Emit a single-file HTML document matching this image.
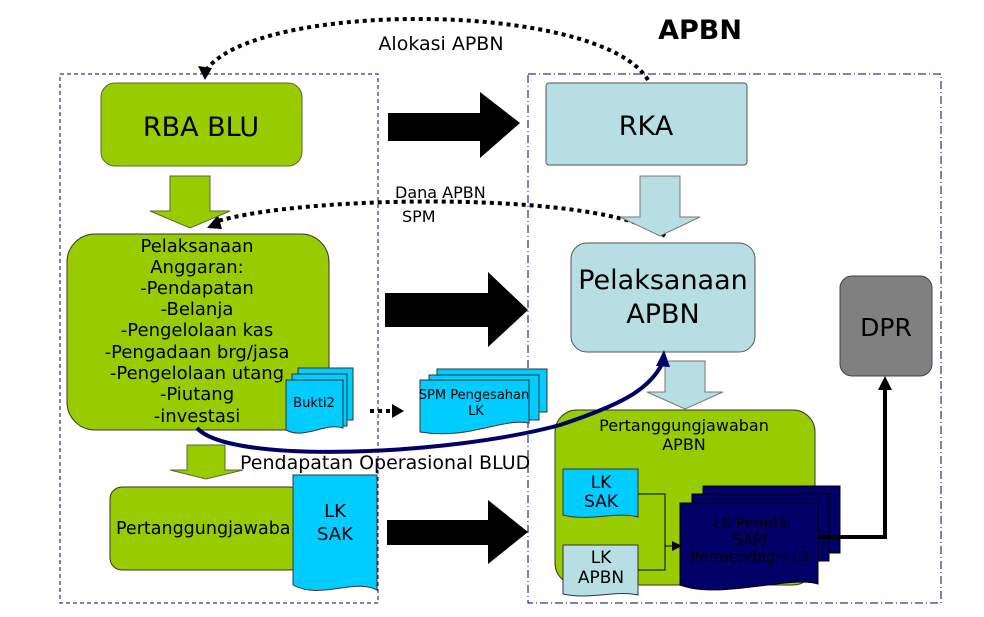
<!DOCTYPE html>
<html><head><meta charset="utf-8"><style>
html,body{margin:0;padding:0;background:#fff;}
svg{display:block;font-family:"DejaVu Sans","Liberation Sans",sans-serif;}
</style></head><body>
<svg width="984" height="617" viewBox="0 0 984 617" xmlns="http://www.w3.org/2000/svg">
<!-- containers -->
<rect x="60" y="74" width="318" height="529" fill="none" stroke="#000080" stroke-width="1" stroke-dasharray="4,3"/>
<rect x="528" y="74" width="413" height="529" fill="none" stroke="#000080" stroke-width="1" stroke-dasharray="8,3,1,3"/>
<text x="700" y="39" font-size="27" font-weight="bold" text-anchor="middle">APBN</text>

<!-- dotted curves -->
<path d="M648,80 C600,0 250,0 205,72" fill="none" stroke="#000" stroke-width="4" stroke-dasharray="4,4"/>
<path d="M198,66 L205,80 L212,68 z" fill="#000"/>
<text x="441" y="50" font-size="19" text-anchor="middle">Alokasi APBN</text>
<path d="M665,236 C600,190 300,195 215,222" fill="none" stroke="#000" stroke-width="4" stroke-dasharray="4,4"/>
<path d="M207,228 L218,215 L222,229 z" fill="#000"/>
<text x="395" y="198" font-size="16">Dana APBN</text>
<text x="402" y="222" font-size="16">SPM</text>

<!-- left -->
<rect x="101" y="83" width="201" height="83" rx="14" fill="#99cc00" stroke="#556b2f" stroke-width="1"/>
<text x="201" y="136" font-size="27" text-anchor="middle">RBA BLU</text>
<path d="M170,176 H210 V211 H230 L190,228 L150,211 H170 Z" fill="#99cc00" stroke="#556b2f" stroke-width="1"/>
<rect x="67" y="234" width="262" height="196" rx="28" fill="#99cc00" stroke="#333" stroke-width="1"/>
<g font-size="18" text-anchor="middle">
<text x="197" y="252">Pelaksanaan</text>
<text x="197" y="273">Anggaran:</text>
<text x="197" y="294">-Pendapatan</text>
<text x="197" y="315">-Belanja</text>
<text x="197" y="336">-Pengelolaan kas</text>
<text x="197" y="358">-Pengadaan brg/jasa</text>
<text x="197" y="379">-Pengelolaan utang</text>
<text x="197" y="400">-Piutang</text>
<text x="197" y="422">-investasi</text>
</g>
<!-- Bukti2 stack -->
<g stroke="#333" stroke-width="1" fill="#00ccff">
<rect x="298" y="368" width="55" height="52"/>
<rect x="292" y="374" width="55" height="52"/>
<path d="M286,380 H343 V428 C325,422 305,440 286,430 Z"/>
</g>
<text x="314" y="407" font-size="13" text-anchor="middle">Bukti2</text>
<path d="M370,411 H392" stroke="#000" stroke-width="4" stroke-dasharray="4,4"/>
<path d="M392,404 L404,411 L392,418 z" fill="#000"/>

<path d="M187,445 H225 V470 H243 L206,479 L170,470 H187 Z" fill="#99cc00" stroke="#556b2f" stroke-width="1"/>
<rect x="110" y="487" width="192" height="83" rx="12" fill="#99cc00" stroke="#333" stroke-width="1"/>
<text x="116" y="534" font-size="17.5">Pertanggungjawaba</text>
<path d="M293,475 H377 V590 C355,578 320,600 293,585 Z" fill="#00ccff" stroke="#333" stroke-width="1"/>
<text x="335" y="517" font-size="18" text-anchor="middle">LK</text>
<text x="335" y="540" font-size="18" text-anchor="middle">SAK</text>

<!-- black arrows -->
<path d="M388,113 H480 V92 L520,123 L480,158 V141 H388 Z" fill="#000"/>
<path d="M385,293 H488 V272 L528,310 L488,347 V327 H385 Z" fill="#000"/>
<path d="M387,520 H488 V500 L528,532 L488,564 V545 H387 Z" fill="#000"/>

<!-- SPM stack -->
<g stroke="#333" stroke-width="1" fill="#00ccff">
<rect x="437" y="369" width="110" height="43"/>
<rect x="429" y="375" width="110" height="45"/>
<path d="M420,380 H529 V423 C500,418 470,440 420,432 Z"/>
</g>
<text x="474" y="399" font-size="13" text-anchor="middle">SPM Pengesahan</text>
<text x="476" y="415" font-size="13" text-anchor="middle">LK</text>

<!-- right -->
<rect x="546" y="83" width="201" height="82" rx="3" fill="#b7dfe3" stroke="#555" stroke-width="1"/>
<text x="646" y="135" font-size="27" text-anchor="middle">RKA</text>
<path d="M640,176 H680 V217 H700 L660,236 L620,217 H640 Z" fill="#b7dfe3" stroke="#777" stroke-width="1"/>
<rect x="571" y="243" width="184" height="109" rx="16" fill="#b7dfe3" stroke="#555" stroke-width="1"/>
<text x="663" y="289" font-size="27" text-anchor="middle">Pelaksanaan</text>
<text x="663" y="323" font-size="27" text-anchor="middle">APBN</text>
<path d="M665,361 H705 V392 H723 L685,409 L647,392 H665 Z" fill="#b7dfe3" stroke="#777" stroke-width="1"/>
<rect x="555" y="410" width="260" height="175" rx="22" fill="#99cc00" stroke="#333" stroke-width="1"/>
<text x="684" y="431" font-size="16" text-anchor="middle">Pertanggungjawaban</text>
<text x="684" y="450" font-size="16" text-anchor="middle">APBN</text>
<path d="M563,469 H638 V517 C615,511 590,522 563,515 Z" fill="#00ccff" stroke="#333" stroke-width="1"/>
<text x="601" y="488" font-size="17" text-anchor="middle">LK</text>
<text x="601" y="507" font-size="17" text-anchor="middle">SAK</text>
<path d="M563,545 H638 V595 C615,590 590,600 563,594 Z" fill="#b7dfe3" stroke="#333" stroke-width="1"/>
<text x="601" y="563" font-size="17" text-anchor="middle">LK</text>
<text x="601" y="583" font-size="17" text-anchor="middle">APBN</text>
<path d="M638,494 H665 V570 H638 M665,546 H680" fill="none" stroke="#000" stroke-width="1"/>
<path d="M672,541 L682,546 L672,551 z" fill="#000"/>
<g fill="#000066" stroke="#000" stroke-width="1">
<rect x="703" y="486" width="137" height="67"/>
<rect x="692" y="494" width="137" height="67"/>
<path d="M680,503 H818 V584 C790,575 720,600 680,585 Z"/>
</g>
<text x="750" y="528" font-size="15" text-anchor="middle" fill="#000">LK Pemda</text>
<text x="750" y="545" font-size="15" text-anchor="middle" fill="#000">SAP/</text>
<text x="750" y="562" font-size="15" text-anchor="middle" fill="#000">Permendagri 13</text>
<path d="M818,537 H885 V386" fill="none" stroke="#000" stroke-width="4"/>
<path d="M878,390 L885,376 L892,390 z" fill="#000"/>
<rect x="840" y="276" width="92" height="100" rx="12" fill="#808080" stroke="#444" stroke-width="1"/>
<text x="886" y="336" font-size="25" text-anchor="middle">DPR</text>

<!-- navy curve -->
<path d="M197,428 C230,465 450,455 560,425 C620,405 650,390 663,362" fill="none" stroke="#000066" stroke-width="4"/>
<path d="M656,366 L664,350 L670,367 z" fill="#000066"/>
<text x="240" y="469" font-size="19" fill="#000">Pendapatan Operasional BLUD</text>
</svg>
</body></html>
